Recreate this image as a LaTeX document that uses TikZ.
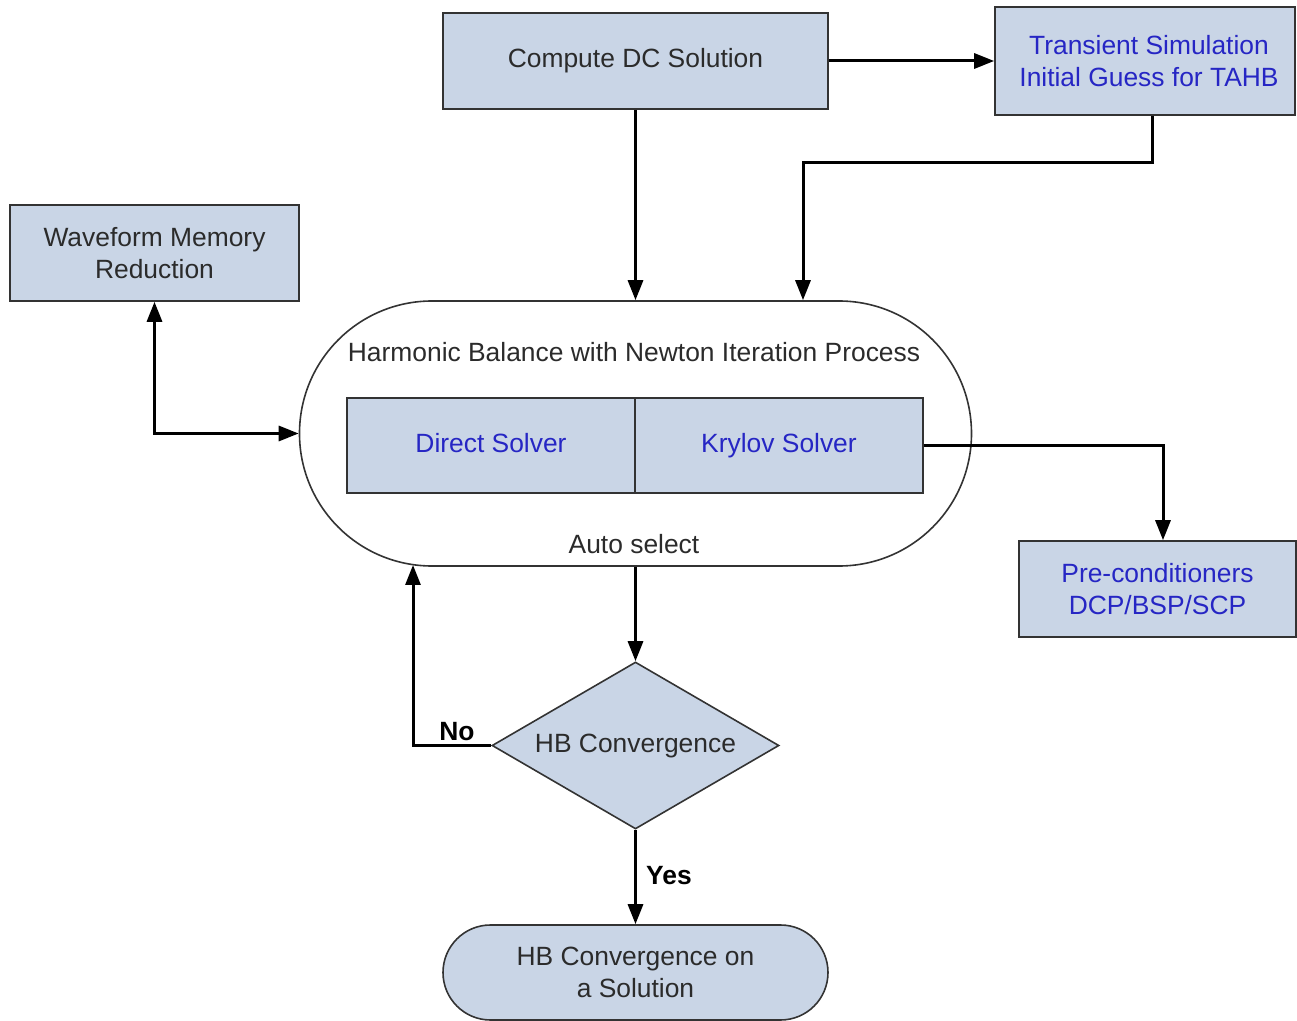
\documentclass[tikz,border=0pt]{standalone}
\usepackage{fontspec}
\setmainfont{Liberation Sans}
\usetikzlibrary{shapes.geometric,shapes.misc,arrows.meta}
\definecolor{boxfill}{HTML}{C9D5E6}
\definecolor{boxline}{HTML}{333333}
\definecolor{txtdark}{HTML}{2B2B2B}
\definecolor{txtblue}{HTML}{2626C4}
\tikzset{
  base/.style={draw=boxline, line width=0.8pt, fill=boxfill, text=txtdark,
    align=center, inner sep=0pt, font=\fontsize{13.2}{16}\selectfont},
  oneline/.style={text height=9.5pt, text depth=2.8pt},
  procbox/.style={base, rectangle},
  bluebox/.style={base, rectangle, text=txtblue},
  termbox/.style={base, rounded rectangle},
  decision/.style={base, diamond},
  arr/.style={line width=1.5pt, draw=black, -{Triangle[length=10pt,width=7.5pt]}},
  dblarr/.style={line width=1.5pt, draw=black, {Triangle[length=10pt,width=7.5pt]}-{Triangle[length=10pt,width=7.5pt]}},
  plain/.style={text=txtdark, font=\fontsize{13.2}{16}\selectfont},
  branch/.style={text=black, font=\fontsize{13.2}{16}\selectfont\bfseries}
}
\begin{document}
\begin{tikzpicture}[x=0.5pt, y=-0.5pt]
\useasboundingbox (0,0) rectangle (1297,1021);

% process boxes
\node[procbox, oneline, minimum width=192.5pt, minimum height=48pt] (dc) at (635.5,61) {Compute DC Solution};
\node[bluebox, minimum width=150pt, minimum height=54pt] (tr) at (1145,61) {\hspace*{4pt}Transient Simulation\\\hspace*{4pt}Initial Guess for TAHB};
\node[procbox, minimum width=144.5pt, minimum height=48pt] (wf) at (154.5,253) {Waveform Memory\\Reduction};
\node[bluebox, minimum width=138.5pt, minimum height=48pt] (pc) at (1157.5,589) {Pre-conditioners\\DCP/BSP/SCP};

% harmonic balance process with its two solvers
\node[termbox, fill=white, minimum width=336pt, minimum height=132.5pt] (hb) at (635.5,433.5) {};
\node[plain] (hbt) at (634,352) {Harmonic Balance with Newton Iteration Process};
\node[bluebox, oneline, minimum width=144pt, minimum height=47.5pt] (ds) at (491,445.5) {Direct Solver};
\node[bluebox, oneline, minimum width=144pt, minimum height=47.5pt] (ks) at (779,445.5) {Krylov Solver};
\node[plain] (auto) at (634,544) {Auto select};

% decision and terminal
\node[decision, oneline, minimum width=143.5pt, minimum height=83.5pt, aspect=1.72] (dia) at (635.5,745.5) {HB Convergence};
\node[termbox, minimum width=192.5pt, minimum height=47.5pt] (term) at (635.5,972.5) {HB Convergence on\\a Solution};

% routing points
\coordinate (k1) at (1152,163);
\coordinate (k2) at (803,163);
\coordinate (n2) at (413,565);

% connectors
\draw[arr] (dc.south) -- (hb.north);
\draw[arr] (dc.east) -- (tr.west);
\draw[arr] (tr.south -| k1) -- (k1) -- (k2) -- (k2 |- hb.north);
\draw[dblarr] (wf.south) |- (hb.west);
\draw[arr] (ks.east) -| ([xshift=2.75pt]pc.north);
\draw[arr] (hb.south) -- (dia.north);
\draw[arr] (dia.west) -| (n2);
\draw[arr] (dia.south) -- (term.north);

% branch labels
\node[branch] (no) at (457,732) {No};
\node[branch] (yes) at (669,876) {Yes};
\end{tikzpicture}
\end{document}
